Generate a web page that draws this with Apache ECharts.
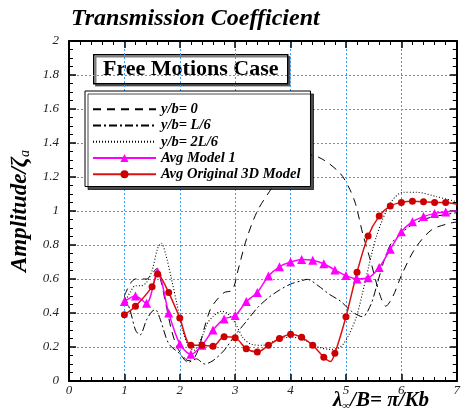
<!DOCTYPE html>
<html lang="en">
<head>
<meta charset="UTF-8">
<title>Transmission Coefficient</title>
<style>
  html, body { margin: 0; padding: 0; background: #fff; }
  #container { width: 463px; height: 420px; }
</style>
</head>
<body>
<div id="container"></div>
<script src="https://cdn.jsdelivr.net/npm/echarts@6/dist/echarts.min.js"></script>
<script type="text/javascript">
// x = lambda/B, y = amplitude ratio
var seriesNames = ['y/b= 0', 'y/b= L/6', 'y/b= 2L/6', 'Avg Model 1', 'Avg Original 3D Model'];

var yb0 = [[1.0,0.5],[1.1,0.57],[1.2,0.6],[1.3,0.6],[1.4,0.6],[1.5,0.63],[1.58,0.66],[1.65,0.6],[1.75,0.45],
  [1.85,0.3],[1.95,0.2],[2.05,0.15],[2.15,0.12],[2.25,0.13],[2.35,0.2],[2.45,0.32],[2.55,0.42],[2.65,0.47],
  [2.8,0.52],[2.95,0.535],[3.05,0.65],[3.2,0.83],[3.4,1.0],[3.65,1.13],[3.9,1.25],[4.1,1.31],[4.35,1.33],
  [4.6,1.3],[4.9,1.22],[5.05,1.14],[5.17,1.045],[5.3,0.87],[5.45,0.7],[5.6,0.52],[5.72,0.44],[5.85,0.5],
  [6.0,0.62],[6.25,0.78],[6.55,0.89],[6.9,0.93],[7.0,0.935]];

var ybL6 = [[1.0,0.5],[1.1,0.42],[1.2,0.3],[1.28,0.27],[1.4,0.36],[1.5,0.41],[1.56,0.42],[1.65,0.36],[1.8,0.22],
  [2.0,0.16],[2.15,0.11],[2.3,0.13],[2.45,0.1],[2.6,0.12],[2.8,0.18],[3.0,0.27],[3.2,0.35],[3.4,0.43],
  [3.6,0.49],[3.8,0.535],[4.0,0.57],[4.2,0.59],[4.3,0.598],[4.5,0.56],[4.7,0.51],[4.9,0.47],[5.1,0.41],
  [5.3,0.378],[5.45,0.45],[5.55,0.555],[5.67,0.69],[5.8,0.8],[6.0,0.87],[6.2,0.92],[6.5,0.96],[7.0,0.99]];

var yb2L6 = [[1.0,0.46],[1.1,0.52],[1.2,0.56],[1.3,0.56],[1.4,0.58],[1.5,0.65],[1.6,0.78],[1.67,0.81],[1.75,0.74],
  [1.85,0.6],[1.95,0.45],[2.05,0.3],[2.15,0.21],[2.25,0.18],[2.4,0.26],[2.5,0.34],[2.6,0.38],[2.75,0.41],
  [2.85,0.4],[3.0,0.34],[3.15,0.25],[3.3,0.215],[3.5,0.21],[3.7,0.235],[3.9,0.255],[4.05,0.257],[4.25,0.24],
  [4.5,0.2],[4.72,0.186],[4.9,0.2],[5.05,0.27],[5.2,0.39],[5.35,0.59],[5.55,0.85],[5.8,1.045],[6.03,1.11],
  [6.27,1.11],[6.63,1.085],[7.0,1.055]];

var avgModel1 = [[1.0,0.467],[1.2,0.5],[1.4,0.457],[1.6,0.643],[1.8,0.4],[2.0,0.218],[2.2,0.157],[2.4,0.21],
  [2.6,0.3],[2.8,0.365],[3.0,0.385],[3.2,0.467],[3.4,0.52],[3.6,0.618],[3.8,0.672],[4.0,0.7],[4.2,0.715],
  [4.4,0.71],[4.6,0.69],[4.8,0.653],[5.0,0.62],[5.2,0.6],[5.4,0.607],[5.6,0.668],[5.8,0.775],[6.0,0.878],
  [6.2,0.937],[6.4,0.967],[6.6,0.986],[6.8,0.994],[7.0,1.0]];

var avgOrig3D = [[1.0,0.39],[1.2,0.44],[1.5,0.555],[1.6,0.63],[1.8,0.52],[2.0,0.37],[2.2,0.21],[2.4,0.21],
  [2.6,0.205],[2.8,0.26],[3.0,0.255],[3.2,0.19],[3.4,0.17],[3.6,0.21],[3.8,0.25],[4.0,0.275],[4.2,0.257],
  [4.4,0.21],[4.6,0.14],[4.72,0.115],[4.8,0.163],[5.0,0.378],[5.2,0.64],[5.4,0.853],[5.6,0.97],[5.8,1.03],
  [6.0,1.05],[6.2,1.057],[6.4,1.055],[6.6,1.05],[6.8,1.05],[7.0,1.04]];

var xTicks = [0, 7, 1];     // min, max, step
var yTicks = [0, 2, 0.2];

var serif = "'Liberation Serif', 'Times New Roman', serif";
var gridBlue = '#3a9bff';

// markers only on the regular 0.1 stations, not on the end or extra points
function markerSize(size) {
    return function (v) {
        var k = v[0] * 10;
        return (Math.abs(k - Math.round(k)) < 1e-6 && v[0] < 6.95) ? size : 0;
    };
}

function frameAxis(pos, isX, withLabels) {
    var t = isX ? xTicks : yTicks;
    return {
        type: 'value', position: pos,
        min: t[0], max: t[1], interval: t[2],
        axisLine: { show: true, onZero: false, lineStyle: { color: '#000', width: 2 } },
        axisTick: { show: true, inside: true, length: 7, lineStyle: { color: '#000', width: 1.5 } },
        minorTick: { show: true, splitNumber: isX ? 5 : 4, length: 4, lineStyle: { color: '#000', width: 1 } },
        axisLabel: {
            show: withLabels, inside: false, margin: isX ? 3 : 10,
            fontFamily: serif, fontStyle: 'italic', fontSize: 13, color: '#222'
        },
        splitLine: { show: withLabels, lineStyle: { color: gridBlue, width: 1, type: [2, 2] } },
        minorSplitLine: { show: false }
    };
}

var chart = echarts.init(document.getElementById('container'), null, { renderer: 'canvas' });

var xBottom = frameAxis('bottom', true, true);
var yLeft = frameAxis('left', false, true);
yLeft.name = '{m|Amplitude/ζ}{s|a}';
yLeft.nameLocation = 'middle';
yLeft.nameGap = 34;
yLeft.nameTextStyle = {
    rich: {
        m: { fontFamily: serif, fontStyle: 'italic', fontWeight: 'bold', fontSize: 23, color: '#000' },
        s: { fontFamily: serif, fontStyle: 'italic', fontSize: 14, color: '#000', padding: [10, 0, 0, 0] }
    }
};

// black curves: legend shows the line only
var legendData = seriesNames.map(function (n, i) {
    return i < 3 ? { name: n, itemStyle: { opacity: 0 } } : { name: n };
});

var option = {
    animation: false,
    title: {
        text: 'Transmission Coefficient',
        left: 66, top: 2,
        textStyle: { fontFamily: serif, fontStyle: 'italic', fontWeight: 'bold', fontSize: 24, color: '#000' }
    },
    grid: { left: 69, right: 2, top: 41, bottom: 39 },
    legend: {
        data: legendData,
        orient: 'vertical',
        left: 85, top: 91,
        padding: [10, 10, 4, 7],
        itemWidth: 63, itemHeight: 10, itemGap: 0,
        backgroundColor: '#fff',
        borderColor: '#000', borderWidth: 1,
        shadowColor: 'rgba(0,0,0,0.7)', shadowOffsetX: 3, shadowOffsetY: 3, shadowBlur: 0,
        textStyle: { fontFamily: serif, fontStyle: 'italic', fontWeight: 'bold', fontSize: 14.5,
                     lineHeight: 16.3, color: '#000' }
    },
    xAxis: [xBottom, frameAxis('top', true, false)],
    yAxis: [yLeft, frameAxis('right', false, false)],
    graphic: [
        {
            type: 'group', left: 93, top: 54, z: 100,
            children: [
                { type: 'rect', shape: { x: 0, y: 0, width: 194, height: 29 },
                  style: { fill: '#fff', stroke: '#000', lineWidth: 1.5,
                           shadowColor: 'rgba(0,0,0,0.5)', shadowOffsetX: 2, shadowOffsetY: 2 } },
                { type: 'text', x: 97, y: 15,
                  style: { text: 'Free Motions Case', fill: '#000', align: 'center', verticalAlign: 'middle',
                           font: 'bold 22px ' + serif } }
            ]
        },
        {
            type: 'text', left: 333, top: 390, z: 100,
            style: {
                text: '{m|λ}{s|∞}{m|/B= π/Kb}',
                rich: {
                    m: { fontFamily: serif, fontStyle: 'italic', fontWeight: 'bold', fontSize: 21, fill: '#000' },
                    s: { fontFamily: serif, fontStyle: 'italic', fontSize: 11, fill: '#000', padding: [12, 0, 0, 0] }
                }
            }
        }
    ],
    series: [
        { name: seriesNames[0], type: 'line', data: yb0, smooth: 0.3, symbol: 'none',
          lineStyle: { color: '#000', width: 1, type: [8, 6] }, itemStyle: { color: '#000' } },
        { name: seriesNames[1], type: 'line', data: ybL6, smooth: 0.3, symbol: 'none',
          lineStyle: { color: '#000', width: 1, type: [8, 3, 2, 3] }, itemStyle: { color: '#000' } },
        { name: seriesNames[2], type: 'line', data: yb2L6, smooth: 0.3, symbol: 'none',
          lineStyle: { color: '#000', width: 1.1, type: [1, 2] }, itemStyle: { color: '#000' } },
        { name: seriesNames[3], type: 'line', data: avgModel1, smooth: 0.3,
          symbol: 'triangle', symbolSize: markerSize(9), showAllSymbol: true,
          lineStyle: { color: '#ff00ff', width: 1.5 }, itemStyle: { color: '#ff00ff' } },
        { name: seriesNames[4], type: 'line', data: avgOrig3D, smooth: 0.3,
          symbol: 'circle', symbolSize: markerSize(7), showAllSymbol: true,
          lineStyle: { color: '#dd1111', width: 1.5 }, itemStyle: { color: '#cc0000' } }
    ]
};

chart.setOption(option, true);
</script>
</body>
</html>
